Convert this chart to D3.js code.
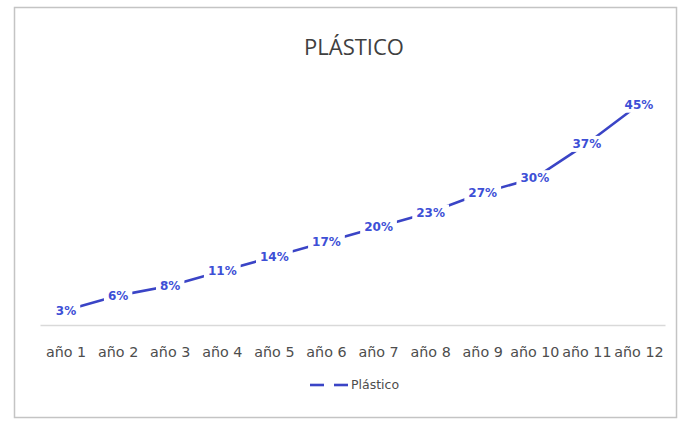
<!DOCTYPE html>
<html><head><meta charset="utf-8">
<script src="https://cdn.jsdelivr.net/npm/d3@7"></script>
<style>body{margin:0;background:#fff}</style>
</head><body>
<script>
const categories = ["año 1","año 2","año 3","año 4","año 5","año 6","año 7","año 8","año 9","año 10","año 11","año 12"];
const values = [3,6,8,11,14,17,20,23,27,30,37,45];
const labels = ["3%","6%","8%","11%","14%","17%","20%","23%","27%","30%","37%","45%"];
const seriesName = "Plástico";
const title = "PLÁSTICO";

const W = 682, H = 421;
const svg = d3.select("body").append("svg").attr("width", W).attr("height", H);

svg.append("rect").attr("x",14.5).attr("y",7.5).attr("width",662).attr("height",410)
  .attr("fill","#fff").attr("stroke","#c4c4c4").attr("stroke-width",1.5);

svg.append("text").attr("x",354).attr("y",55).attr("text-anchor","middle")
  .attr("font-family","Open Sans").attr("font-size",22).attr("fill","#404040")
  .text(title);

const x = d3.scaleBand().domain(categories).range([40,665]);
const y = d3.scaleLinear().domain([0,50]).range([325,80]);

// axis
const ax = svg.append("g").attr("transform","translate(0,325)")
  .call(d3.axisBottom(x).tickSize(0).tickPadding(0));
ax.select(".domain").attr("stroke","#d9d9d9").attr("stroke-width",1.5);
ax.selectAll("text").attr("font-family","DejaVu Sans").attr("font-size",14.3)
  .attr("fill","#4d4d4d").attr("dy",0).attr("y",32);

const cx = d => x(d) + x.bandwidth()/2;
const line = d3.line().x((d,i)=>cx(categories[i])).y(d=>y(d));
svg.append("path").datum(values).attr("d",line).attr("fill","none")
  .attr("stroke","#3a44c6").attr("stroke-width",2.6);

const lg = svg.append("g").selectAll("g").data(values).join("g")
  .attr("transform",(d,i)=>`translate(${cx(categories[i])},${y(d)})`);
const lt = lg.append("text").attr("text-anchor","middle").attr("dy","0.35em")
  .attr("font-family","DejaVu Sans").attr("font-weight","bold").attr("font-size",12)
  .attr("fill","#3d4fd6").text((d,i)=>labels[i]);
lg.each(function(){
  const g = d3.select(this);
  const b = g.select("text").node().getBBox();
  g.insert("rect","text").attr("x",b.x-4).attr("y",b.y-1).attr("width",b.width+8).attr("height",b.height+2).attr("fill","#fff");
});

// legend
const leg = svg.append("g");
leg.append("line").attr("x1",310).attr("x2",324).attr("y1",385).attr("y2",385).attr("stroke","#3a44c6").attr("stroke-width",2.6);
leg.append("line").attr("x1",334).attr("x2",348).attr("y1",385).attr("y2",385).attr("stroke","#3a44c6").attr("stroke-width",2.6);
leg.append("text").attr("x",351).attr("y",389).attr("font-family","DejaVu Sans").attr("font-size",12.5)
  .attr("fill","#4d4d4d").text(seriesName);
</script>
</body></html>
